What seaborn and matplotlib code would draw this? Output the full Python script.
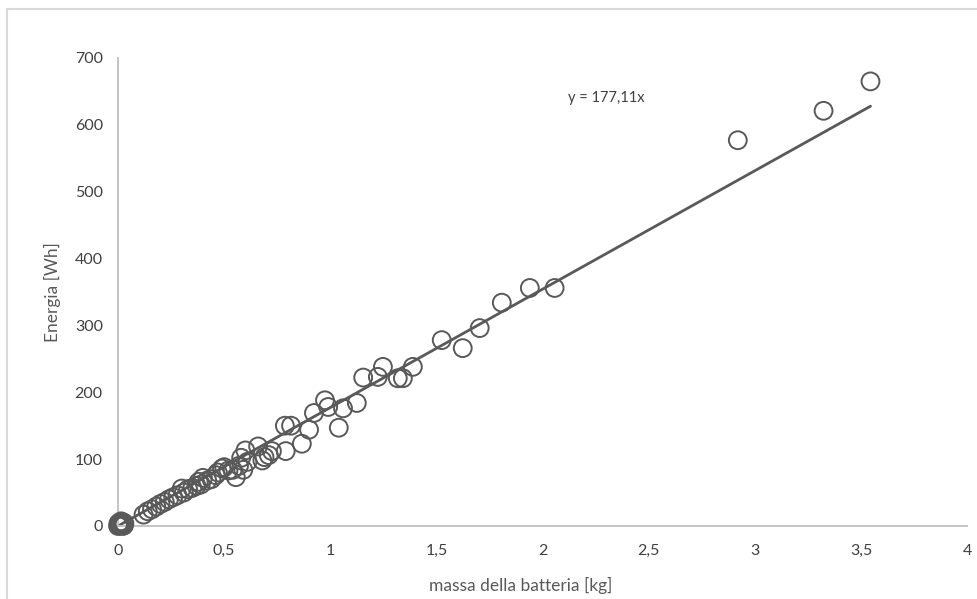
import matplotlib
matplotlib.use("Agg")
import matplotlib.pyplot as plt
import seaborn as sns
import numpy as np
import pandas as pd
from matplotlib.lines import Line2D
from matplotlib.ticker import FuncFormatter

# ---- data ----
massa = [0.0, 0.004, 0.008, 0.012, 0.016, 0.02, 0.01, 0.006, 0.025, 0.03, 0.018, 0.028,
         0.002, 0.014, 0.022,
         0.12, 0.14, 0.16, 0.18, 0.20, 0.22, 0.24, 0.26, 0.28, 0.30, 0.31, 0.33,
         0.35, 0.37, 0.38, 0.39, 0.40, 0.42, 0.44, 0.46, 0.47, 0.49, 0.50, 0.52,
         0.54, 0.555, 0.57, 0.58, 0.59, 0.60, 0.61, 0.66, 0.68, 0.69, 0.71, 0.725,
         0.786, 0.79, 0.815, 0.866, 0.90, 0.923, 0.975, 0.99, 1.04, 1.06, 1.125,
         1.155, 1.224, 1.248, 1.318, 1.342, 1.389, 1.525, 1.624, 1.704, 1.808,
         1.94, 2.057, 2.92, 3.324, 3.545]
energia = [0, 1, 1, 2, 3, 3, 2, 1, 5, 4, 6, 1,
           4, 7, 0,
           17, 22, 25, 29, 33, 36, 40, 43, 46, 56, 50, 55,
           57, 60, 66, 62, 72, 68, 70, 76, 80, 86, 88, 83,
           84, 73, 90, 102, 84, 113, 96, 119, 98, 103, 106, 112,
           150, 112, 150, 123, 144, 169, 188, 178, 147, 176, 184,
           222, 223, 238, 221, 221, 238, 278, 266, 296, 334,
           356, 356, 577, 621, 665]
pendenza = 177.11
x_ticks = [0, 0.5, 1, 1.5, 2, 2.5, 3, 3.5, 4]
y_ticks = [0, 100, 200, 300, 400, 500, 600, 700]
etichetta_x = "massa della batteria [kg]"
etichetta_y = "Energia [Wh]"
equazione = "y = 177,11x"

df = pd.DataFrame({"massa": massa, "energia": energia})
fit = pd.DataFrame({"x": [0.0, max(massa)]})
fit["y"] = pendenza * fit["x"]

sns.set_theme(style="white")
plt.rcParams["font.family"] = ["Lato", "DejaVu Sans"]

txt = "#595959"
spine = "#bfbfbf"

fig = plt.figure(figsize=(9.78, 5.99), dpi=100)
ax = fig.add_axes([0.1207, 0.1219, 0.8681, 0.7813])

sns.lineplot(data=fit, x="x", y="y", ax=ax, color="#595959", linewidth=2.0, zorder=2)
sns.scatterplot(data=df, x="massa", y="energia", ax=ax, marker="o", s=165,
                facecolor="none", edgecolor="#595959", linewidth=1.4, zorder=3,
                clip_on=False)

ax.set_xlim(0, 4)
ax.set_ylim(0, 700)
ax.set_xticks(x_ticks)
ax.set_yticks(y_ticks)
ax.xaxis.set_major_formatter(FuncFormatter(lambda v, p: ("%g" % v).replace(".", ",")))
ax.tick_params(axis="both", colors=spine, labelcolor="#404040", labelsize=11.5,
               length=5, width=1.2, direction="out")
ax.tick_params(axis="x", pad=8)
ax.tick_params(axis="y", pad=6)
ax.spines["top"].set_visible(False)
ax.spines["right"].set_visible(False)
for s in ("left", "bottom"):
    ax.spines[s].set_color(spine)
    ax.spines[s].set_linewidth(1.3)
ax.grid(False)
ax.set_xlabel(etichetta_x, color=txt, fontsize=12.5, labelpad=8)
ax.xaxis.set_label_coords((521 - 118) / 849, -0.108)
ax.set_ylabel(etichetta_y, color=txt, fontsize=12.5, labelpad=10)
ax.text(2.30, 640, equazione, color="#404040", fontsize=10.5, ha="center", va="center")

# chart-area border (left and top)
fig.add_artist(Line2D([7 / 978, 7 / 978], [0, 1 - 9 / 599], transform=fig.transFigure,
                      color="#d9d9d9", linewidth=1.5))
fig.add_artist(Line2D([7 / 978, 1], [1 - 9 / 599, 1 - 9 / 599], transform=fig.transFigure,
                      color="#d9d9d9", linewidth=1.5))

fig.savefig("out.png", dpi=100)
